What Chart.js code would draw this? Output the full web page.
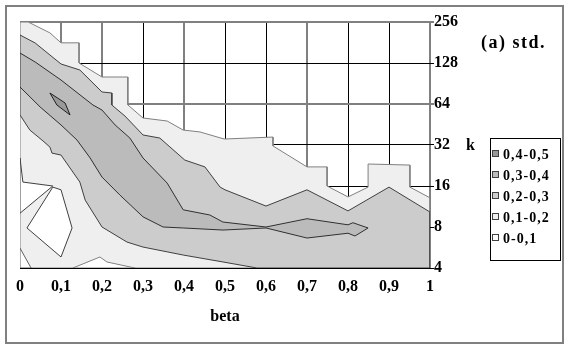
<!DOCTYPE html>
<html>
<head>
<meta charset="utf-8">
<script src="https://cdn.jsdelivr.net/npm/chart.js@4.4.0/dist/chart.umd.min.js"></script>
<style>
    html, body { margin: 0; padding: 0; background: #fff; }
    canvas { display: block; }
</style>
</head>
<body>
<canvas id="contourChart" width="572" height="349"></canvas>
<script>
// axes: beta along x, k along y (log2 spacing)
const xTicks = [0, 0.1, 0.2, 0.3, 0.4, 0.5, 0.6, 0.7, 0.8, 0.9, 1];
const xTickLabels = ['0', '0,1', '0,2', '0,3', '0,4', '0,5', '0,6', '0,7', '0,8', '0,9', '1'];
const kTicks = [4, 8, 16, 32, 64, 128, 256];

const panelTitle = '(a) std.';
const xTitle = 'beta';
const yTitle = 'k';

const bandLabels = ['0,4-0,5', '0,3-0,4', '0,2-0,3', '0,1-0,2', '0-0,1'];
const bandColors = ['#999999', '#bbbbbb', '#cccccc', '#efefef', '#ffffff'];

// contour regions, [beta, k]
const band01 = [[0.02, 256], [0.073, 213], [0.1, 180], [0.144, 180], [0.144, 128], [0.2, 101], [0.263, 101], [0.263, 63],
    [0.3, 50.5], [0.359, 48], [0.398, 41.2], [0.439, 39.9], [0.498, 35.4], [0.617, 36.6], [0.617, 31.5], [0.7, 22.1],
    [0.749, 22.1], [0.749, 16], [0.8, 13.3], [0.849, 15.7], [0.849, 23.2], [0.951, 22.8], [0.951, 15.7], [1, 13.1],
    [1, 4], [0, 4], [0, 256], [0.02, 256]];

const band02 = [[0, 205.5], [0.037, 179.5], [0.1, 125.9], [0.146, 113.7], [0.2, 78.4], [0.224, 77.1], [0.224, 62.9],
    [0.256, 52.2], [0.3, 37.9], [0.341, 36], [0.402, 24.8], [0.451, 22.1], [0.488, 15.7], [0.5, 15], [0.6, 11.4],
    [0.7, 15], [0.8, 10.5], [0.9, 15.7], [1, 10.3], [1, 4], [0.578, 4], [0.495, 4.43], [0.398, 4.98], [0.3, 5.7],
    [0.261, 6.2], [0.2, 8], [0.159, 12.6], [0.146, 17.1], [0.1, 27], [0.078, 27.9], [0.073, 30.9], [0.056, 34.3],
    [0.024, 41.2], [0, 53.2], [0, 205.5]];

const band03 = [[0, 151.6], [0.037, 130.2], [0.1, 96], [0.178, 62.9], [0.2, 57.8], [0.232, 44.9], [0.268, 36],
    [0.3, 25.7], [0.359, 16.8], [0.398, 10.7], [0.463, 9.8], [0.495, 8.7], [0.6, 8], [0.7, 9.2], [0.8, 8.3],
    [0.812, 8.6], [0.849, 7.87], [0.817, 6.87], [0.8, 7.2], [0.7, 6.64], [0.6, 7.87], [0.495, 7.6], [0.398, 7.87],
    [0.349, 8], [0.3, 9.5], [0.244, 13.7], [0.2, 18.6], [0.171, 25.7], [0.139, 34.8], [0.1, 44.9], [0.049, 60.9],
    [0, 85.3], [0, 151.6]];

const band04 = [[0.073, 77.1], [0.11, 65.1], [0.122, 53.2], [0.09, 62.9], [0.073, 77.1]];

// pockets below 0,1
const holeA = [[0, 25.7], [0.007, 17.1], [0.08, 16], [0, 10.1], [0, 25.7]];
const holeB = [[0.08, 15.7], [0.017, 7.87], [0.1, 4.82], [0.127, 7.87], [0.1, 15], [0.08, 15.7]];
const holeC = [[0, 5.6], [0.027, 4], [0, 4], [0, 5.6]];
const holeD = [[0.129, 4], [0.195, 4.82], [0.212, 4.43], [0.28, 4], [0.129, 4]];

// grid line shades (Excel mixes black and grey lines)
const xGridColors = ['#000', '#808080', '#808080', '#000', '#808080', '#000', '#000', '#808080', '#000', '#000', '#808080'];
const kGridColors = ['#000', '#000', '#000', '#000', '#808080', '#000', '#808080'];

const FONT = '"Liberation Serif", "Times New Roman", serif';

function region(label, pts, fillColor, lineColor, order) {
    return {
        label: label,
        data: pts.map(p => ({ x: p[0], y: p[1] })),
        showLine: true,
        fill: 'shape',
        backgroundColor: fillColor,
        borderColor: lineColor,
        borderWidth: 1,
        pointRadius: 0,
        tension: 0,
        order: order
    };
}

const decorPlugin = {
    id: 'decor',
    beforeDraw(chart) {
        const c = chart.ctx;
        c.save();
        c.fillStyle = '#fff';
        c.fillRect(0, 0, chart.width, chart.height);
        c.restore();
    },
    afterDraw(chart) {
        const c = chart.ctx;
        c.save();
        c.strokeStyle = '#808080';
        c.lineWidth = 2;
        c.strokeRect(6, 6, 557, 337);

        c.fillStyle = '#000';
        c.textBaseline = 'middle';
        c.textAlign = 'left';
        c.font = 'bold 18px ' + FONT;
        c.letterSpacing = '1.5px';
        c.fillText(panelTitle, 481, 43);
        c.font = 'bold 16px ' + FONT;
        c.letterSpacing = '0px';
        c.fillText(yTitle, 466, 146);

        // legend box
        c.strokeStyle = '#000';
        c.lineWidth = 1;
        c.strokeRect(490.5, 138.5, 70, 122);
        c.font = 'bold 14px ' + FONT;
        c.letterSpacing = '1px';
        bandLabels.forEach((lab, i) => {
            const y = 154 + i * 21;
            c.fillStyle = bandColors[i];
            c.fillRect(492.5, y - 3.5, 6, 6);
            c.strokeStyle = '#404040';
            c.strokeRect(492.5, y - 3.5, 6, 6);
            c.fillStyle = '#000';
            c.fillText(lab, 503, y + 1);
        });
        c.restore();
    }
};

new Chart(document.getElementById('contourChart').getContext('2d'), {
    type: 'scatter',
    data: {
        datasets: [
            region('0,1-0,2', band01, bandColors[3], '#808080', 9),
            region('0-0,1', holeA, '#ffffff', '#404040', 8),
            region('0-0,1', holeB, '#ffffff', '#404040', 8),
            region('0-0,1', holeC, '#ffffff', '#606060', 8),
            region('0-0,1', holeD, '#ffffff', '#808080', 8),
            region('0,2-0,3', band02, bandColors[2], '#404040', 7),
            region('0,3-0,4', band03, bandColors[1], '#303030', 6),
            region('0,4-0,5', band04, bandColors[0], '#202020', 5)
        ]
    },
    options: {
        responsive: false,
        animation: false,
        events: [],
        layout: { padding: { left: 20, top: 22, right: 0, bottom: 0 } },
        plugins: {
            legend: { display: false },
            tooltip: { enabled: false }
        },
        scales: {
            x: {
                type: 'linear',
                min: 0,
                max: 1,
                z: 1,
                afterBuildTicks: axis => { axis.ticks = xTicks.map(v => ({ value: v })); },
                afterFit: axis => { axis.height = 81; },
                border: { display: false },
                grid: {
                    drawTicks: false,
                    color: ctx => xGridColors[ctx.index],
                    lineWidth: ctx => (xGridColors[ctx.index] === '#000' ? 1 : 2)
                },
                ticks: {
                    autoSkip: false,
                    maxRotation: 0,
                    padding: 9,
                    color: '#000',
                    font: { family: FONT, size: 16, weight: 'bold' },
                    callback: (v, i) => xTickLabels[i]
                },
                title: {
                    display: true,
                    text: xTitle,
                    color: '#000',
                    font: { family: FONT, size: 16, weight: 'bold' },
                    padding: { top: 0, bottom: 23 }
                }
            },
            y: {
                type: 'logarithmic',
                position: 'right',
                min: 4,
                max: 256,
                z: 1,
                afterBuildTicks: axis => { axis.ticks = kTicks.map(v => ({ value: v })); },
                afterFit: axis => { axis.width = 142; },
                border: { display: false },
                grid: {
                    tickLength: 4,
                    color: ctx => kGridColors[ctx.index],
                    lineWidth: ctx => (kGridColors[ctx.index] === '#000' ? 1 : 2)
                },
                ticks: {
                    padding: 0,
                    color: '#000',
                    font: { family: FONT, size: 16, weight: 'bold' },
                    callback: v => String(v)
                }
            }
        }
    },
    plugins: [decorPlugin]
});
</script>
</body>
</html>
